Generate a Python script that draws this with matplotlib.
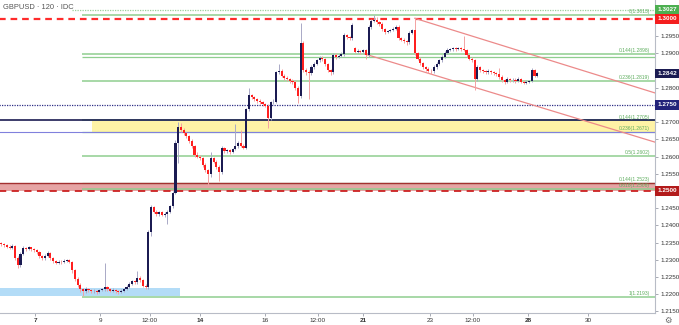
import matplotlib
matplotlib.use("Agg")
import matplotlib.pyplot as plt
from matplotlib.transforms import blended_transform_factory
from matplotlib.patches import Rectangle
import numpy as np

# ---- 2-hour GBPUSD candles ----
opens = [
    1.2348, 1.2345, 1.2342, 1.2338, 1.2335, 1.2340, 1.2305, 1.2285, 1.2318, 1.2335,
    1.2332, 1.2336, 1.2330, 1.2328, 1.2322, 1.2310, 1.2305, 1.2312, 1.2320, 1.2305,
    1.2296, 1.2292, 1.2295, 1.2293, 1.2297, 1.2299, 1.2295, 1.2270, 1.2245, 1.2228,
    1.2215, 1.2208, 1.2215, 1.2212, 1.2208, 1.2210, 1.2206, 1.2212, 1.2215, 1.2222,
    1.2214, 1.2210, 1.2213, 1.2208, 1.2206, 1.2210, 1.2215, 1.2222, 1.2230, 1.2238,
    1.2235, 1.2248, 1.2240, 1.2225, 1.2220, 1.2381, 1.2452, 1.2440, 1.2432, 1.2438,
    1.2430, 1.2434, 1.2440, 1.2455, 1.2495, 1.2640, 1.2685, 1.2678, 1.2668, 1.2660,
    1.2645, 1.2630, 1.2605, 1.2600, 1.2595, 1.2575, 1.2560, 1.2548, 1.2595, 1.2585,
    1.2570, 1.2555, 1.2625, 1.2615, 1.2618, 1.2612, 1.2622, 1.2630, 1.2640, 1.2632,
    1.2626, 1.2738, 1.2778, 1.2772, 1.2768, 1.2762, 1.2758, 1.2752, 1.2748, 1.2712,
    1.2758, 1.2760, 1.2845, 1.2850, 1.2835, 1.2828, 1.2825, 1.2820, 1.2818, 1.2800,
    1.2775, 1.2930, 1.2852, 1.2845, 1.2843, 1.2860, 1.2870, 1.2880, 1.2888, 1.2885,
    1.2868, 1.2852, 1.2845, 1.2895, 1.2890, 1.2893, 1.2898, 1.2953, 1.2948, 1.2945,
    1.2915, 1.2905, 1.2908, 1.2905, 1.2910, 1.2895, 1.2977, 1.2995, 1.2998, 1.2990,
    1.2985, 1.2970, 1.2962, 1.2965, 1.2968, 1.2972, 1.2978, 1.2945, 1.2940, 1.2935,
    1.2932, 1.2960, 1.2968, 1.2900, 1.2885, 1.2872, 1.2860, 1.2855, 1.2850, 1.2848,
    1.2860, 1.2870, 1.2880, 1.2890, 1.2902, 1.2910, 1.2912, 1.2915, 1.2912, 1.2916,
    1.2912, 1.2910, 1.2895, 1.2885, 1.2880, 1.2825, 1.2860, 1.2852, 1.2848, 1.2845,
    1.2850, 1.2845, 1.2842, 1.2840, 1.2832, 1.2822, 1.2818, 1.2825, 1.2822, 1.2824,
    1.2820, 1.2826, 1.2818, 1.2815, 1.2818, 1.2820, 1.2852, 1.2835,
]
highs = [
    1.2352, 1.2350, 1.2346, 1.2344, 1.2346, 1.2342, 1.2310, 1.2322, 1.2340, 1.2338,
    1.2340, 1.2338, 1.2334, 1.2331, 1.2325, 1.2314, 1.2318, 1.2326, 1.2323, 1.2308,
    1.2299, 1.2299, 1.2298, 1.2301, 1.2303, 1.2302, 1.2297, 1.2274, 1.2250, 1.2232,
    1.2219, 1.2220, 1.2218, 1.2215, 1.2214, 1.2213, 1.2216, 1.2219, 1.2290, 1.2225,
    1.2217, 1.2217, 1.2215, 1.2211, 1.2214, 1.2219, 1.2226, 1.2234, 1.2242, 1.2241,
    1.2266, 1.2252, 1.2244, 1.2229, 1.2386, 1.2458, 1.2456, 1.2444, 1.2442, 1.2441,
    1.2438, 1.2444, 1.2460, 1.2500, 1.2648, 1.2701, 1.2698, 1.2682, 1.2672, 1.2664,
    1.2650, 1.2634, 1.2612, 1.2604, 1.2598, 1.2580, 1.2564, 1.2612, 1.2600, 1.2590,
    1.2575, 1.2630, 1.2628, 1.2622, 1.2621, 1.2626, 1.2695, 1.2645, 1.2678, 1.2636,
    1.2742, 1.2800, 1.2782, 1.2776, 1.2771, 1.2766, 1.2761, 1.2756, 1.2752, 1.2762,
    1.2766, 1.2850, 1.2870, 1.2854, 1.2840, 1.2833, 1.2829, 1.2825, 1.2822, 1.2804,
    1.2988, 1.2935, 1.2858, 1.2852, 1.2865, 1.2875, 1.2885, 1.2893, 1.2892, 1.2888,
    1.2872, 1.2856, 1.2900, 1.2900, 1.2898, 1.2903, 1.2958, 1.2957, 1.2952, 1.2988,
    1.2920, 1.2912, 1.2911, 1.2914, 1.2913, 1.2982, 1.3000, 1.3012, 1.3006, 1.2995,
    1.2990, 1.2974, 1.2969, 1.2972, 1.2976, 1.2982, 1.2982, 1.2949, 1.2944, 1.2939,
    1.2964, 1.2972, 1.3002, 1.2904, 1.2890, 1.2876, 1.2864, 1.2859, 1.2854, 1.2865,
    1.2875, 1.2885, 1.2895, 1.2906, 1.2915, 1.2916, 1.2919, 1.2918, 1.2920, 1.2919,
    1.2950, 1.2914, 1.2899, 1.2889, 1.2884, 1.2865, 1.2864, 1.2856, 1.2852, 1.2856,
    1.2853, 1.2849, 1.2846, 1.2858, 1.2836, 1.2826, 1.2830, 1.2829, 1.2828, 1.2827,
    1.2830, 1.2829, 1.2822, 1.2822, 1.2824, 1.2858, 1.2856, 1.2846,
]
lows = [
    1.2340, 1.2338, 1.2333, 1.2331, 1.2332, 1.2298, 1.2276, 1.2280, 1.2314, 1.2326,
    1.2328, 1.2325, 1.2322, 1.2316, 1.2305, 1.2298, 1.2300, 1.2308, 1.2300, 1.2290,
    1.2287, 1.2289, 1.2288, 1.2290, 1.2293, 1.2290, 1.2262, 1.2238, 1.2222, 1.2205,
    1.2196, 1.2204, 1.2206, 1.2203, 1.2204, 1.2200, 1.2203, 1.2208, 1.2210, 1.2209,
    1.2205, 1.2206, 1.2203, 1.2200, 1.2203, 1.2207, 1.2212, 1.2218, 1.2226, 1.2230,
    1.2231, 1.2236, 1.2221, 1.2214, 1.2216, 1.2370, 1.2436, 1.2428, 1.2427, 1.2426,
    1.2425, 1.2405, 1.2436, 1.2450, 1.2490, 1.2580, 1.2672, 1.2662, 1.2655, 1.2640,
    1.2625, 1.2600, 1.2596, 1.2590, 1.2570, 1.2555, 1.2517, 1.2542, 1.2580, 1.2565,
    1.2528, 1.2550, 1.2610, 1.2611, 1.2608, 1.2609, 1.2618, 1.2626, 1.2628, 1.2622,
    1.2622, 1.2732, 1.2766, 1.2763, 1.2756, 1.2752, 1.2746, 1.2743, 1.2684, 1.2706,
    1.2752, 1.2756, 1.2840, 1.2830, 1.2823, 1.2820, 1.2815, 1.2812, 1.2795, 1.2755,
    1.2770, 1.2846, 1.2838, 1.2766, 1.2838, 1.2855, 1.2866, 1.2876, 1.2878, 1.2862,
    1.2846, 1.2838, 1.2840, 1.2885, 1.2886, 1.2889, 1.2893, 1.2943, 1.2940, 1.2940,
    1.2900, 1.2900, 1.2899, 1.2901, 1.2885, 1.2890, 1.2972, 1.2990, 1.2985, 1.2980,
    1.2965, 1.2956, 1.2958, 1.2961, 1.2964, 1.2968, 1.2940, 1.2935, 1.2930, 1.2924,
    1.2928, 1.2956, 1.2895, 1.2880, 1.2866, 1.2855, 1.2850, 1.2843, 1.2840, 1.2844,
    1.2856, 1.2866, 1.2876, 1.2886, 1.2898, 1.2906, 1.2908, 1.2907, 1.2909, 1.2908,
    1.2906, 1.2890, 1.2880, 1.2875, 1.2795, 1.2820, 1.2847, 1.2843, 1.2840, 1.2841,
    1.2840, 1.2837, 1.2834, 1.2826, 1.2816, 1.2812, 1.2814, 1.2817, 1.2818, 1.2815,
    1.2816, 1.2813, 1.2810, 1.2811, 1.2814, 1.2816, 1.2832, 1.2832,
]
closes = [
    1.2345, 1.2342, 1.2338, 1.2335, 1.2340, 1.2305, 1.2285, 1.2318, 1.2335, 1.2332,
    1.2336, 1.2330, 1.2328, 1.2322, 1.2310, 1.2305, 1.2312, 1.2320, 1.2305, 1.2296,
    1.2292, 1.2295, 1.2293, 1.2297, 1.2299, 1.2295, 1.2270, 1.2245, 1.2228, 1.2215,
    1.2208, 1.2215, 1.2212, 1.2208, 1.2210, 1.2206, 1.2212, 1.2215, 1.2222, 1.2214,
    1.2210, 1.2213, 1.2208, 1.2206, 1.2210, 1.2215, 1.2222, 1.2230, 1.2238, 1.2235,
    1.2248, 1.2240, 1.2225, 1.2220, 1.2381, 1.2452, 1.2440, 1.2432, 1.2438, 1.2430,
    1.2434, 1.2440, 1.2455, 1.2495, 1.2640, 1.2685, 1.2678, 1.2668, 1.2660, 1.2645,
    1.2630, 1.2605, 1.2600, 1.2595, 1.2575, 1.2560, 1.2548, 1.2595, 1.2585, 1.2570,
    1.2555, 1.2625, 1.2615, 1.2618, 1.2612, 1.2622, 1.2630, 1.2640, 1.2632, 1.2626,
    1.2738, 1.2778, 1.2772, 1.2768, 1.2762, 1.2758, 1.2752, 1.2748, 1.2712, 1.2758,
    1.2760, 1.2845, 1.2850, 1.2835, 1.2828, 1.2825, 1.2820, 1.2818, 1.2800, 1.2775,
    1.2930, 1.2852, 1.2845, 1.2843, 1.2860, 1.2870, 1.2880, 1.2888, 1.2885, 1.2868,
    1.2852, 1.2845, 1.2895, 1.2890, 1.2893, 1.2898, 1.2953, 1.2948, 1.2945, 1.2983,
    1.2905, 1.2908, 1.2905, 1.2910, 1.2895, 1.2977, 1.2995, 1.2998, 1.2990, 1.2985,
    1.2970, 1.2962, 1.2965, 1.2968, 1.2972, 1.2978, 1.2945, 1.2940, 1.2935, 1.2932,
    1.2960, 1.2968, 1.2900, 1.2885, 1.2872, 1.2860, 1.2855, 1.2850, 1.2848, 1.2860,
    1.2870, 1.2880, 1.2890, 1.2902, 1.2910, 1.2912, 1.2915, 1.2912, 1.2916, 1.2912,
    1.2910, 1.2895, 1.2885, 1.2880, 1.2825, 1.2860, 1.2852, 1.2848, 1.2845, 1.2850,
    1.2845, 1.2842, 1.2840, 1.2832, 1.2822, 1.2818, 1.2825, 1.2822, 1.2824, 1.2820,
    1.2826, 1.2818, 1.2815, 1.2818, 1.2820, 1.2852, 1.2835, 1.2842,
]

# ---- time axis (bar-index positions) ----
day_tick_pos = [12.4, 36.3, 54.6, 73.0, 97.0, 116.4, 133.0, 157.6, 173.4, 193.6, 215.7]
day_tick_labels = ["7", "9", "12:00", "14", "16", "12:00", "21", "23", "12:00", "28", "30"]
bold_ticks = ["7", "14", "21", "28"]

price_ticks = [1.2150, 1.2200, 1.2250, 1.2300, 1.2350, 1.2400, 1.2450, 1.2550,
               1.2600, 1.2650, 1.2700, 1.2800, 1.2900, 1.2950]

# ---- Fibonacci retracement levels (ratio, price) ----
fib_ratios = ["0", "0.144", "0.236", "0.144", "0.5", "0.618", "1"]
fib_prices = [1.3013, 1.2898, 1.2819, 1.2705, 1.2602, 1.2506, 1.2193]
fib_start = 29.6

# second retracement drawing (labelled levels and one unlabelled line)
fib2_ratios = ["0.236", "0.144"]
fib2_prices = [1.2671, 1.2523]
fib2_extra_line = 1.2889

# ---- horizontal levels ----
level_top_dotted = 1.3027
level_big_figure = 1.3000
level_mid = 1.2750
level_support_line = 1.2707
level_low_big = 1.2500
zone_yellow = (1.2672, 1.2703)
zone_red = (1.2500, 1.2523)
zone_blue = (1.2195, 1.2219)
zone_blue_end = 65.7
zone_yellow_start = 33.3

# ---- descending channel (bar index, price) ----
channel_upper = [(152.0, 1.3002), (240.3, 1.2785)]
channel_lower = [(133.7, 1.2898), (240.3, 1.2642)]

UP = "#1b1b52"
DOWN = "#ff1f1f"
UP_WICK = "#a9a9c6"
DOWN_WICK = "#f3a2a2"
FIB_GREEN = "#8fce8f"
FIB_TEXT = "#5fae5f"

W, H = 679, 325
fig = plt.figure(figsize=(W / 100, H / 100), dpi=100)
ax = fig.add_axes([0, 12 / H, 655 / W, 313 / H])

x = np.arange(len(closes))
o = np.array(opens); h = np.array(highs); l = np.array(lows); c = np.array(closes)
up = c >= o

XMAX = 240.3
ax.set_xlim(-0.52, XMAX)
ax.set_ylim(1.21453, 1.30552)

# zones
ax.add_patch(Rectangle((-1, zone_blue[0]), zone_blue_end + 1, zone_blue[1] - zone_blue[0],
                       facecolor="#b3dcf7", edgecolor="none", zorder=1))
ax.add_patch(Rectangle((zone_yellow_start, zone_yellow[0]), XMAX - zone_yellow_start,
                       zone_yellow[1] - zone_yellow[0],
                       facecolor="#fff3a6", edgecolor="none", zorder=1))
ax.add_patch(Rectangle((-1, zone_red[0]), XMAX + 1, zone_red[1] - zone_red[0],
                       facecolor="#e6a4a4", edgecolor="none", zorder=1))


def fib_label(p, r):
    ax.text(238.5, p + 0.00025, f"{r}({p:.4f})", fontsize=3.6, color=FIB_TEXT,
            ha="right", va="bottom", family="Liberation Sans", zorder=6)


# fib lines
for r, p in zip(fib_ratios, fib_prices):
    ax.hlines(p, fib_start, XMAX, color=FIB_GREEN, lw=1.1, zorder=2)
    fib_label(p, r)
for r, p in zip(fib2_ratios, fib2_prices):
    ax.hlines(p, fib_start, XMAX, color=FIB_GREEN, lw=0.9, zorder=2)
    fib_label(p, r)
ax.hlines(fib2_extra_line, fib_start, XMAX, color=FIB_GREEN, lw=0.9, zorder=2)

# other horizontals
ax.hlines(level_top_dotted, 26, XMAX, color="#9ccf9c", lw=0.9, linestyles=(0, (1, 1)), zorder=2)
ax.hlines(level_big_figure, -1, XMAX, color="#ff2b2b", lw=1.6, linestyles=(0, (3, 2.2)), zorder=2)
ax.hlines(level_mid, -1, XMAX, color="#2d2d85", lw=0.9, linestyles=(0, (1, 1)), zorder=2)
ax.hlines(level_support_line, -1, XMAX, color="#1b1b52", lw=1.2, zorder=2)
ax.hlines(zone_yellow[0] - 0.0001, -1, XMAX, color="#8080dd", lw=0.8, zorder=2)
ax.hlines(zone_red[1], -1, XMAX, color="#a33030", lw=1.0, zorder=2)
ax.hlines(level_low_big, -1, XMAX, color="#cc2222", lw=1.3, linestyles=(0, (4, 3)), zorder=2)

# channel
for seg in (channel_upper, channel_lower):
    (x0, y0), (x1, y1) = seg
    ax.plot([x0, x1], [y0, y1], color="#ec8a8a", lw=0.9, zorder=3)

# candles
ax.vlines(x[up], l[up], h[up], color=UP_WICK, lw=0.7, zorder=4)
ax.vlines(x[~up], l[~up], h[~up], color=DOWN_WICK, lw=0.7, zorder=4)
body_lo = np.minimum(o, c)
body_h = np.maximum(np.abs(c - o), 0.00012)
ax.bar(x[up], body_h[up], bottom=body_lo[up], width=0.78, color=UP, linewidth=0, zorder=5)
ax.bar(x[~up], body_h[~up], bottom=body_lo[~up], width=0.78, color=DOWN, linewidth=0, zorder=5)

# axes styling
for s in ("top", "left"):
    ax.spines[s].set_visible(False)
ax.spines["bottom"].set_color("#b8bcc6")
ax.spines["right"].set_color("#b8bcc6")
ax.spines["bottom"].set_linewidth(0.8)
ax.spines["right"].set_linewidth(0.8)
ax.yaxis.tick_right()
ax.set_yticks(price_ticks)
ax.set_yticklabels([f"{p:.4f}" for p in price_ticks], fontsize=4.5, color="#333333",
                   family="Liberation Sans")
ax.tick_params(axis="y", length=2.2, width=0.6, color="#9a9ea8", pad=1.5)
ax.set_xticks(day_tick_pos)
ax.set_xticklabels(day_tick_labels, fontsize=4.6, color="#333333", family="Liberation Sans")
for t in ax.get_xticklabels():
    if t.get_text() in bold_ticks:
        t.set_fontweight("bold")
ax.tick_params(axis="x", length=2, width=0.6, color="#9a9ea8", pad=1.5)

# price tags on the scale
tr = blended_transform_factory(ax.transAxes, ax.transData)
tags = [(level_top_dotted, "#4caf50"), (level_big_figure, "#f41e1e"),
        (closes[-1], "#1b1b52"), (level_mid, "#23237a"), (level_low_big, "#b31b1b")]
for p, col in tags:
    ax.text(1.004, p, f"{p:.4f}", transform=tr, fontsize=4.6, color="white",
            ha="left", va="center", family="Liberation Sans", fontweight="bold",
            bbox=dict(boxstyle="square,pad=0.35", fc=col, ec="none"), zorder=10,
            clip_on=False)

fig.text(3 / W, 1 - 4 / H, "GBPUSD · 120 · IDC", fontsize=5.4, color="#555555",
         ha="left", va="top", family="Liberation Sans")
fig.text(668 / W, 1 - 320 / H, "⚙", fontsize=6, color="#666666", ha="center", va="center",
         family="DejaVu Sans")

fig.savefig("out.png", dpi=100, facecolor="white")
